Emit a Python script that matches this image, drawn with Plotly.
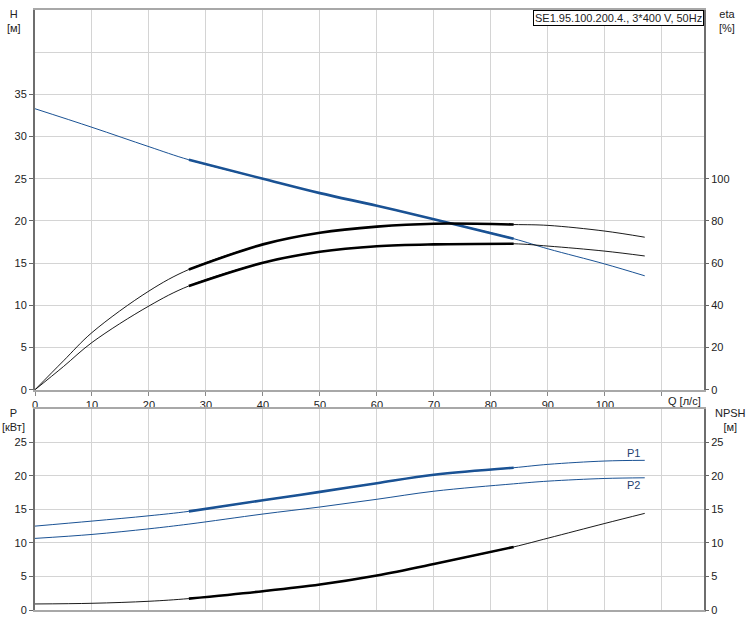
import numpy as np
import plotly.graph_objects as go
from plotly.subplots import make_subplots

# ---- data ----
q_h = [0, 10, 20, 27, 40, 50, 60, 70, 84, 90, 100, 107]
h_vals = [33.3, 31.1, 28.8, 27.25, 25.0, 23.3, 21.8, 20.2, 17.9, 16.7, 14.9, 13.5]

q_eta = [0, 5, 10, 20, 27, 40, 50, 60, 70, 84, 90, 100, 107]
eta_upper = [0, 13.7, 27.1, 46.8, 57.0, 68.9, 74.4, 77.3, 78.7, 78.3, 77.9, 75.2, 72.3]
eta_lower = [0, 11.0, 22.4, 39.7, 49.2, 60.2, 65.4, 68.0, 68.9, 69.2, 68.1, 65.7, 63.4]

q_p = [0, 10, 20, 27, 40, 50, 60, 70, 84, 90, 100, 107]
p1_vals = [12.5, 13.25, 14.04, 14.7, 16.35, 17.6, 18.9, 20.15, 21.2, 21.7, 22.2, 22.3]
p2_vals = [10.67, 11.26, 12.1, 12.8, 14.3, 15.35, 16.5, 17.7, 18.8, 19.2, 19.6, 19.7]
npsh_vals = [0.9, 1.0, 1.3, 1.7, 2.8, 3.8, 5.15, 6.85, 9.4, 10.7, 12.9, 14.4]

duty_range = (27, 84)
title_text = "SE1.95.100.200.4., 3*400 V, 50Hz"

x_ticks = list(range(0, 120, 10))
x_ticktext = [str(v) for v in range(0, 110, 10)] + [""]
h_ticks = list(range(0, 40, 5))
h_extra_grid = [40]
eta_ticks = list(range(0, 120, 20))
p_ticks = list(range(0, 30, 5))

# ---- styling ----
BLUE = "#1a5294"
FONT = "Liberation Sans, Arial, sans-serif"
TXT = "#222222"
GRID = "#d4d4d4"

fig = make_subplots(rows=2, cols=1, specs=[[{"secondary_y": True}], [{"secondary_y": True}]],
                    vertical_spacing=0.0)


def duty(xs, ys):
    xs = np.array(xs, float)
    ys = np.array(ys, float)
    m = (xs >= duty_range[0]) & (xs <= duty_range[1])
    return xs[m], ys[m]


def add(xs, ys, color, row, sec, thick=True, thin_w=1.0):
    fig.add_trace(go.Scatter(x=xs, y=ys, mode="lines", line=dict(color=color, width=thin_w, shape="spline"),
                             hoverinfo="skip", showlegend=False), row=row, col=1, secondary_y=sec)
    if thick:
        dx, dy = duty(xs, ys)
        fig.add_trace(go.Scatter(x=dx, y=dy, mode="lines", line=dict(color=color, width=2.6, shape="spline"),
                                 hoverinfo="skip", showlegend=False), row=row, col=1, secondary_y=sec)


add(q_h, h_vals, BLUE, 1, False)
add(q_eta, eta_upper, "#000000", 1, True, thin_w=0.9)
add(q_eta, eta_lower, "#000000", 1, True, thin_w=0.9)
add(q_p, p1_vals, BLUE, 2, False)
add(q_p, p2_vals, BLUE, 2, False, thick=False)
add(q_p, npsh_vals, "#000000", 2, True, thin_w=0.9)

X_RANGE = [0, 117.4]
L, R, T, B = 35, 47, 8, 14
H_PLOT = 624 - T - B
top_dom = [(610 - 389) / H_PLOT, 1.0]
bot_dom = [0.0, (610 - 408) / H_PLOT]

axis_font = dict(family=FONT, size=11, color=TXT)

fig.update_layout(
    width=751, height=624, margin=dict(l=L, r=R, t=T, b=B),
    paper_bgcolor="white", plot_bgcolor="white",
    font=axis_font,
    xaxis=dict(domain=[0, 1], range=X_RANGE, tickvals=x_ticks, ticktext=x_ticktext, showgrid=True,
               gridcolor=GRID, gridwidth=1, showline=True, linecolor="#a8a8a8", linewidth=2, mirror=True,
               ticks="outside", ticklen=4, tickcolor="#888888", zeroline=False, tickfont=axis_font,
               anchor="y"),
    xaxis2=dict(domain=[0, 1], range=X_RANGE, tickvals=x_ticks, showticklabels=False, showgrid=True,
                gridcolor=GRID, gridwidth=1, showline=True, linecolor="#a8a8a8", linewidth=2, mirror=True,
                ticks="", zeroline=False, anchor="y3"),
    yaxis=dict(domain=top_dom, range=[0, 45], tickvals=h_ticks, showgrid=True,
               gridcolor=GRID, showline=True, linecolor="#6e6e6e", linewidth=2, mirror=True,
               ticks="outside", ticklen=4, tickcolor="#666666", zeroline=False, tickfont=axis_font,
               minor=dict(tickmode="array", tickvals=h_extra_grid, showgrid=True, gridcolor=GRID, ticks=""),
               anchor="x"),
    yaxis2=dict(range=[0, 180], tickvals=eta_ticks, showgrid=False, showline=False,
                ticks="outside", ticklen=4, tickcolor="#666666", zeroline=False, tickfont=axis_font,
                side="right", overlaying="y", anchor="x"),
    yaxis3=dict(domain=bot_dom, range=[0, 30], tickvals=p_ticks, showgrid=True, gridcolor=GRID,
                showline=True, linecolor="#6e6e6e", linewidth=2, mirror=True,
                ticks="outside", ticklen=4, tickcolor="#666666", zeroline=False, tickfont=axis_font,
                anchor="x2"),
    yaxis4=dict(range=[0, 30], tickvals=p_ticks, showgrid=False, showline=False,
                ticks="outside", ticklen=4, tickcolor="#666666", zeroline=False, tickfont=axis_font,
                side="right", overlaying="y3", anchor="x2"),
)


def px_x(px):
    return (px - L) / (751 - L - R)


def px_y(py):
    return (624 - B - py) / H_PLOT


ann = [
    dict(text="H<br>[м]", x=px_x(14), y=px_y(19)),
    dict(text="eta<br>[%]", x=px_x(727), y=px_y(19)),
    dict(text="P<br>[кВт]", x=px_x(13), y=px_y(419)),
    dict(text="NPSH<br>[м]", x=px_x(730), y=px_y(419)),
    dict(text="Q [л/с]", x=px_x(684), y=px_y(400)),
]
for a in ann:
    fig.add_annotation(xref="paper", yref="paper", showarrow=False, xanchor="center", yanchor="middle",
                       font=dict(family=FONT, size=11, color=TXT), **a)

fig.add_annotation(xref="paper", yref="paper", x=1.0, y=1.0, xanchor="right", yanchor="top",
                   text=title_text, showarrow=False, bgcolor="white", bordercolor="#000000",
                   borderwidth=1, borderpad=1, font=dict(family=FONT, size=11, color=TXT))

fig.add_annotation(xref="x2", yref="y3", x=q_p[-1] - 2, y=p1_vals[-1] + 1.1, text="P1",
                   showarrow=False, font=dict(family=FONT, size=11, color="#1f3f6f"))
fig.add_annotation(xref="x2", yref="y3", x=q_p[-1] - 2, y=p2_vals[-1] - 1.0, text="P2",
                   showarrow=False, font=dict(family=FONT, size=11, color="#1f3f6f"))

fig.write_html("out.html")
